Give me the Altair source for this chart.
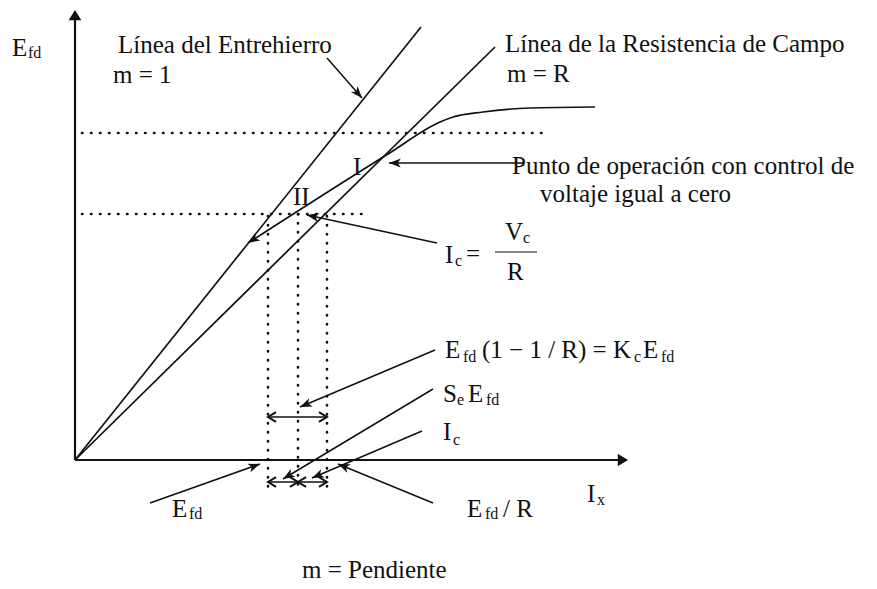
import math
import altair as alt
import pandas as pd

# Diagram units: field current I_x to the right, E_fd upward,
# origin at the corner of the axes.
X_DOMAIN = [-75, 802]
Y_DOMAIN = [-129, 460]

# Axes (arrow tips)
axis_x_end = 553
axis_y_end = 450

# Straight characteristics through the origin
air_gap_end = [346, 433]        # Línea del Entrehierro, m = 1
field_line_end = [420, 413]     # Línea de la Resistencia de Campo, m = R

# Saturation curve leaving the air-gap line
sat_ix = [173, 313, 365, 378, 408, 455, 520]
sat_efd = [217, 306, 338, 343, 348, 352, 353]

# Dotted construction lines
level_efd = [327, 246]
level_from = [7, 7]
level_to = [475, 290]
current_ix = [193, 223, 252]
current_top = [244, 246, 244]
current_bottom = -32

# Annotation arrows (tail -> head)
arrow_tail_ix = [252, 448, 362, 360, 358, 347, 75, 358]
arrow_tail_efd = [402, 297, 217, 110, 71, 29, -43, -43]
arrow_head_ix = [287, 314, 232, 225, 208, 237, 185, 263]
arrow_head_efd = [362, 297, 245, 53, -19, -18, -4, -4]

# Double-headed spans between the dotted currents
span_efd = [43, -22, -22]
span_from = [193, 193, 223]
span_to = [252, 223, 252]

# Labels (normal size) and subscripts
label_text = ["E", "Línea  del Entrehierro", "m = 1", "Línea de la Resistencia de Campo",
              "m = R", "Punto de operación con control de", "voltaje igual a cero",
              "I", "II", "I", "=", "V", "R", "E", "(1 − 1 / R) = K", "E", "S", "E", "I",
              "I", "E", "/ R", "E", "m = Pendiente"]
label_ix = [-63, 43, 38, 430, 432, 437, 465, 278, 218, 370, 391, 430, 432, 370, 407, 568,
            368, 393, 368, 512, 392, 428, 97, 227]
label_efd = [404, 407, 377, 408, 378, 286, 258, 285, 255, 197, 198, 220, 180, 102, 102, 102,
             58, 58, 20, -42, -57, -57, -57, -118]

sub_text = ["fd", "c", "c", "fd", "c", "fd", "e", "fd", "c", "x", "fd", "fd"]
sub_ix = [-47, 380, 448, 388, 559, 586, 382, 411, 378, 522, 410, 114]
sub_efd = [402, 194, 217, 98, 98, 98, 55, 55, 15, -45, -59, -59]

# Fraction bar of I_c = V_c / R
frac_ix = [420, 462]
frac_efd = 208

INK = "#111111"
FONT = "Liberation Serif"

xs = alt.Scale(domain=X_DOMAIN, nice=False, zero=False)
ys = alt.Scale(domain=Y_DOMAIN, nice=False, zero=False)


def X(f):
    return alt.X(f"{f}:Q", scale=xs, axis=None)


def Y(f):
    return alt.Y(f"{f}:Q", scale=ys, axis=None)


def heading(x0, y0, x1, y1):
    return math.degrees(math.atan2(x1 - x0, y1 - y0)) % 360


def rules(df, **kw):
    return alt.Chart(df).mark_rule(color=INK, **kw).encode(
        x=X("x"), y=Y("y"), x2="x2:Q", y2="y2:Q")


# Axes
axes_df = pd.DataFrame({"x": [0, 0], "y": [0, 0],
                        "x2": [axis_x_end - 6, 0], "y2": [0, axis_y_end - 6]})
axes_heads = pd.DataFrame({"x": [axis_x_end, 0], "y": [0, axis_y_end]})
axes_heads["angle"] = [heading(0, 0, r.x, r.y) for r in axes_heads.itertuples()]

# Straight lines
lines_df = pd.DataFrame({"x": [0, 0], "y": [0, 0],
                         "x2": [air_gap_end[0], field_line_end[0]],
                         "y2": [air_gap_end[1], field_line_end[1]]})

sat_df = pd.DataFrame({"x": sat_ix, "y": sat_efd})

dots_df = pd.DataFrame({
    "x": level_from + current_ix,
    "y": level_efd + current_top,
    "x2": level_to + current_ix,
    "y2": level_efd + [current_bottom] * len(current_ix),
})

arrows_df = pd.DataFrame({"x": arrow_tail_ix, "y": arrow_tail_efd,
                          "x2": arrow_head_ix, "y2": arrow_head_efd})
heads_df = pd.DataFrame({"x": arrow_head_ix + [sat_ix[0]],
                         "y": arrow_head_efd + [sat_efd[0]]})
heads_df["angle"] = [heading(x0, y0, x1, y1) for x0, y0, x1, y1 in zip(
    arrow_tail_ix + [sat_ix[1]], arrow_tail_efd + [sat_efd[1]],
    arrow_head_ix + [sat_ix[0]], arrow_head_efd + [sat_efd[0]])]

spans_df = pd.DataFrame({"x": span_from, "y": span_efd, "x2": span_to, "y2": span_efd})
span_heads = pd.DataFrame({"x": span_from + span_to, "y": span_efd + span_efd})
span_heads["angle"] = [270] * len(span_from) + [90] * len(span_to)

frac_df = pd.DataFrame({"x": [frac_ix[0]], "y": [frac_efd], "x2": [frac_ix[1]], "y2": [frac_efd]})

labels_df = pd.DataFrame({"t": label_text, "x": label_ix, "y": label_efd})
subs_df = pd.DataFrame({"t": sub_text, "x": sub_ix, "y": sub_efd})

TRIANGLE = "M0,0 L0.5,0.8 L-0.5,0.8 Z"
BARB = "M0,0 L0.38,1 L0,0.74 L-0.38,1 Z"
CHEVRON = "M-0.6,1 L0,0 L0.6,1"

layers = [
    rules(axes_df, strokeWidth=2.2),
    alt.Chart(axes_heads).mark_point(shape=TRIANGLE, size=650, filled=True, opacity=1,
                                     color=INK).encode(
        x=X("x"), y=Y("y"), angle=alt.Angle("angle:Q", scale=None)),
    rules(lines_df, strokeWidth=1.7),
    alt.Chart(sat_df).mark_line(color=INK, strokeWidth=1.7, interpolate="monotone").encode(
        x=X("x"), y=Y("y")),
    rules(dots_df, strokeWidth=2.6, strokeDash=[0.5, 8.5], strokeCap="round"),
    rules(arrows_df, strokeWidth=1.5),
    alt.Chart(heads_df).mark_point(shape=BARB, size=560, filled=True, opacity=1,
                                   color=INK).encode(
        x=X("x"), y=Y("y"), angle=alt.Angle("angle:Q", scale=None)),
    rules(spans_df, strokeWidth=1.5),
    alt.Chart(span_heads).mark_point(shape=CHEVRON, size=260, filled=False, opacity=1,
                                     color=INK, strokeWidth=2).encode(
        x=X("x"), y=Y("y"), angle=alt.Angle("angle:Q", scale=None)),
    rules(frac_df, strokeWidth=1.2),
    alt.Chart(labels_df).mark_text(font=FONT, fontSize=25, align="left",
                                   baseline="alphabetic", color=INK).encode(
        x=X("x"), y=Y("y"), text="t:N"),
    alt.Chart(subs_df).mark_text(font=FONT, fontSize=16, align="left",
                                 baseline="alphabetic", color=INK).encode(
        x=X("x"), y=Y("y"), text="t:N"),
]

chart = alt.layer(*layers).properties(
    width=877, height=589, padding=0,
    autosize=alt.AutoSizeParams(type="none"),
    background="white",
).configure_view(stroke=None)

chart.save("out.html", embed_options={"renderer": "svg", "actions": False})
